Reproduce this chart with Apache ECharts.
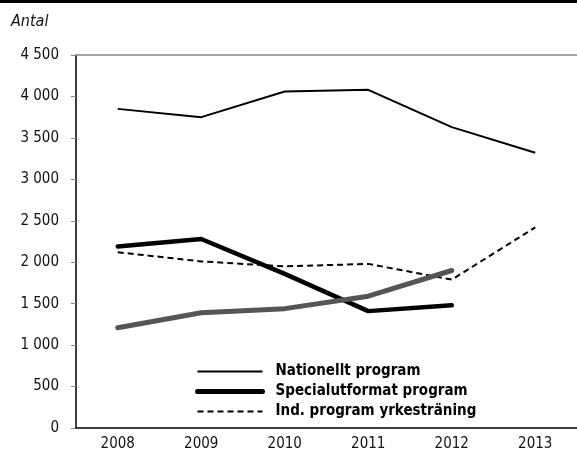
<!DOCTYPE html>
<html><head><meta charset="utf-8">
<script src="https://cdn.jsdelivr.net/npm/echarts@6/dist/echarts.min.js"></script>
<style>html,body{margin:0;padding:0;background:#fff}#c{width:577px;height:455px}</style>
</head><body><div id="c"></div>
<script>
const categories = ['2008','2009','2010','2011','2012','2013'];
const nationellt = [3850, 3750, 4060, 4080, 3630, 3320];
const specialutformat = [2190, 2280, 1860, 1410, 1480, null];
const indYrkes = [2120, 2010, 1950, 1980, 1790, 2420];
const grey = [1210, 1390, 1440, 1590, 1900, null];
const yTicks = [0, 500, 1000, 1500, 2000, 2500, 3000, 3500, 4000, 4500];
const names = ['Nationellt program', 'Specialutformat program', 'Ind. program yrkesträning'];

const FONT = '"Liberation Sans Narrow","DejaVu Sans Condensed","Roboto Condensed",sans-serif';
const chart = echarts.init(document.getElementById('c'), null, {renderer:'canvas'});
const fmt = v => String(v).replace(/\B(?=(\d{3})+(?!\d))/g, ' ');
chart.setOption({
  animation:false,
  backgroundColor:'#fff',
  grid:{left:76, right:-4, top:55, bottom:27},
  title:{text:'Antal', left:6, top:9, textStyle:{fontFamily:FONT, fontStyle:'italic', fontWeight:'normal', fontSize:16, color:'#111'}},
  graphic:[{type:'rect', shape:{x:0,y:0,width:577,height:3}, style:{fill:'#000'}}],
  legend:{
    orient:'vertical', left:195, top:364, padding:0, itemWidth:65, itemHeight:14, itemGap:5,
    itemStyle:{opacity:0},
    data:[
      {name:names[0], lineStyle:{width:2}},
      {name:names[1], lineStyle:{width:5}},
      {name:names[2], lineStyle:{width:2, type:[6,4]}}
    ],
    textStyle:{fontFamily:FONT, fontWeight:'bold', fontSize:15, color:'#000', padding:[0,0,0,8]}
  },
  xAxis:[
    {type:'category', data:categories, boundaryGap:true,
     axisLine:{lineStyle:{color:'#000', width:1.5}},
     axisTick:{inside:true, length:8, lineStyle:{color:'#333'}},
     axisLabel:{fontFamily:FONT, fontSize:15, color:'#111', margin:9},
     splitLine:{show:false}},
    {type:'category', data:categories, boundaryGap:true, position:'bottom',
     axisLine:{show:false}, axisTick:{length:5, lineStyle:{color:'#333'}},
     axisLabel:{show:false}, splitLine:{show:false}},
    {type:'category', data:categories, position:'top',
     axisLine:{lineStyle:{color:'#888', width:1.5}}, axisTick:{show:false}, axisLabel:{show:false}}
  ],
  yAxis:{type:'value', min:yTicks[0], max:yTicks[yTicks.length-1], interval:500,
    axisLine:{show:true, lineStyle:{color:'#000', width:1.5}},
    axisTick:{show:true, length:5, lineStyle:{color:'#888'}},
    axisLabel:{fontFamily:FONT, fontSize:15, color:'#111', margin:17, formatter:fmt},
    splitLine:{show:false}},
  series:[
    {name:names[0], type:'line', data:nationellt, symbol:'none', z:3,
     lineStyle:{color:'#000', width:2}, itemStyle:{color:'#000'}},
    {name:names[1], type:'line', data:specialutformat, symbol:'none', z:4,
     lineStyle:{color:'#000', width:4.5, cap:'round'}, itemStyle:{color:'#000'}},
    {name:names[2], type:'line', data:indYrkes, symbol:'none', z:3,
     lineStyle:{color:'#000', width:2, type:[6,4]}, itemStyle:{color:'#000'}},
    {name:'grey', type:'line', data:grey, symbol:'none', z:5,
     lineStyle:{color:'#555', width:5, cap:'round'}, itemStyle:{color:'#555'}}
  ]
});
</script></body></html>
